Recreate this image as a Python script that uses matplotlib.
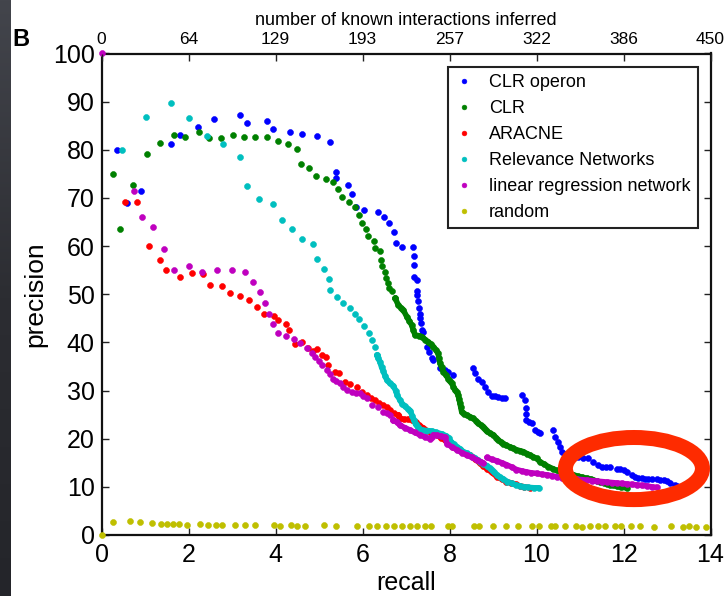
import matplotlib
matplotlib.use("Agg")
import matplotlib.pyplot as plt
import numpy as np
from matplotlib.patches import Ellipse

plt.rcParams['font.family'] = ['Liberation Sans', 'DejaVu Sans']

# ---------------- data ----------------
top_labels = ["0", "64", "129", "193", "257", "322", "386", "450"]
x_ticks = [0, 2, 4, 6, 8, 10, 12, 14]
y_ticks = [0, 10, 20, 30, 40, 50, 60, 70, 80, 90, 100]
labels = ["CLR operon", "CLR", "ARACNE", "Relevance Networks",
          "linear regression network", "random"]
colors = ["#0000ff", "#008000", "#ff0000", "#00bfbf", "#bf00bf", "#bfbf00"]

# CLR operon (blue)
clr_op_x = [0.35, 0.59, 0.91, 1.59, 1.80, 2.21, 2.59, 3.18, 3.34, 3.80, 3.95, 4.33, 4.61, 4.95,
            5.26, 5.38, 5.38, 5.66, 5.77, 5.84, 6.03, 6.35, 6.50, 6.61, 6.72, 6.76, 6.91, 7.15,
            7.18, 7.19, 7.19, 7.25, 7.25, 7.26, 7.28, 7.30, 7.32, 7.32, 7.34, 7.36, 7.40, 7.48,
            7.52, 7.59, 7.63, 7.78, 7.90, 7.97, 8.09,
            8.55, 8.59, 8.66, 8.74, 8.82, 8.89, 8.97, 9.05, 9.12, 9.20, 9.28,
            9.66, 9.74, 9.76, 9.76, 9.77, 9.83, 9.89, 9.97, 10.03, 10.08,
            10.39, 10.43, 10.50, 10.54, 10.58, 10.66, 10.80, 10.95, 11.08, 11.19, 11.31, 11.42,
            11.50, 11.60, 11.69, 11.84, 11.93, 12.00, 12.08, 12.19, 12.26, 12.34, 12.42, 12.50,
            12.57, 12.66, 12.76, 12.84, 12.92, 13.00, 13.07, 13.18, 13.24, 13.30]
clr_op_y = [80.0, 68.9, 71.4, 81.2, 83.1, 84.7, 86.5, 87.3, 85.6, 86.0, 84.3, 83.8, 83.2, 82.9,
            81.7, 75.3, 74.2, 72.6, 70.9, 68.2, 67.4, 67.0, 66.0, 64.8, 62.9, 60.6, 59.9, 59.8,
            58.0, 56.1, 53.6, 53.0, 50.7, 49.8, 48.5, 47.1, 46.0, 45.0, 44.0, 42.6, 42.2, 39.1,
            38.1, 36.7, 36.3, 34.6, 34.3, 33.9, 33.2,
            34.6, 33.6, 32.5, 31.8, 30.8, 29.8, 28.9, 28.8, 28.7, 28.5, 28.4,
            29.1, 28.0, 26.3, 25.1, 23.9, 23.5, 23.2, 21.8, 21.4, 21.2,
            21.8, 20.4, 19.4, 18.3, 17.3, 16.8, 16.4, 16.2, 16.0, 15.9, 15.2, 14.5,
            14.2, 14.2, 14.2, 13.8, 13.7, 13.5, 13.1, 12.5, 12.1, 11.9, 11.8, 11.7,
            11.6, 11.6, 11.6, 11.5, 11.4, 11.2, 10.9, 10.4, 10.2, 9.9]

# CLR (green)
clr_x = [0.26, 0.43, 0.72, 1.04, 1.34, 1.67, 1.92, 2.23, 2.46, 2.75, 3.03, 3.28, 3.54, 3.80,
         4.06, 4.29, 4.49, 4.58, 4.77, 4.92, 5.15, 5.33, 5.44, 5.54, 5.70, 5.83, 5.91, 5.99,
         6.08, 6.13, 6.26, 6.29, 6.41, 6.42, 6.45, 6.51, 6.55, 6.59, 6.62, 6.67, 6.75]
clr_y = [75.0, 63.6, 72.7, 79.1, 81.5, 83.1, 82.6, 83.8, 82.5, 82.4, 83.0, 82.7, 82.7, 82.6,
         81.9, 81.3, 80.1, 77.1, 76.3, 74.6, 74.0, 73.4, 71.9, 70.2, 69.2, 68.2, 66.5, 64.7,
         63.6, 62.0, 61.1, 59.7, 58.9, 57.2, 55.8, 54.6, 53.4, 52.4, 51.4, 50.6, 49.2]
clr_tail_x = [6.75, 6.82, 6.88, 6.94, 7.02, 7.08, 7.13, 7.17, 7.21, 7.29, 7.36, 7.44, 7.51, 7.57,
              7.63, 7.69, 7.74, 7.76, 7.78, 7.82, 7.86, 7.92, 7.97, 8.01, 8.05, 8.09, 8.13, 8.17,
              8.20, 8.22, 8.24, 8.26, 8.28, 8.34, 8.40, 8.48, 8.55, 8.61, 8.66, 8.72, 8.78, 8.82,
              8.86, 8.94, 9.01, 9.07, 9.12, 9.18, 9.24, 9.31, 9.39, 9.47, 9.54, 9.62, 9.70, 9.78,
              9.85, 9.93, 10.00, 10.08, 10.18, 10.27, 10.37, 10.46, 10.56, 10.66, 10.76, 10.85,
              10.95, 11.05, 11.15, 11.25, 11.31, 11.38, 11.46, 11.55, 11.62, 11.69, 11.77, 11.85,
              11.95, 12.07]
clr_tail_y = [49.2, 47.8, 47.2, 46.7, 45.3, 44.4, 43.6, 42.5, 41.5, 41.4, 41.2, 40.6, 40.1, 39.6,
              39.1, 38.4, 37.7, 36.7, 35.7, 34.8, 33.9, 33.2, 32.5, 32.0, 31.5, 30.8, 30.1, 29.6,
              29.1, 28.2, 27.4, 26.5, 25.6, 25.2, 24.9, 24.5, 24.2, 23.7, 23.2, 22.8, 22.5, 22.0,
              21.5, 21.1, 20.8, 20.2, 19.7, 19.3, 19.0, 18.6, 18.3, 18.0, 17.7, 17.5, 17.3, 16.9,
              16.6, 16.2, 15.9, 15.2, 14.7, 14.2, 13.8, 13.4, 13.1, 12.9, 12.7, 12.5,
              12.2, 12.0, 11.8, 11.6, 11.4, 11.2, 11.0, 10.8, 10.6, 10.4, 10.3, 10.1,
              9.9, 9.8]

# ARACNE (red)
ara_x = [0.54, 0.82, 1.10, 1.34, 1.48, 1.81, 2.07, 2.34, 2.49, 2.78, 2.96, 3.18, 3.40, 3.57,
         3.74, 3.97, 4.05, 4.24, 4.30, 4.45, 4.60, 4.74, 4.87, 4.95, 5.06, 5.16, 5.21, 5.37,
         5.47, 5.60, 5.71, 5.87, 5.98, 6.10, 6.20, 6.29, 6.38, 6.48, 6.56, 6.63, 6.72, 6.82]
ara_y = [69.2, 69.2, 60.0, 57.1, 55.0, 53.5, 54.4, 54.2, 51.9, 51.7, 50.2, 49.6, 48.8, 47.3,
         45.8, 45.5, 44.7, 43.8, 42.5, 39.6, 40.0, 38.8, 38.2, 38.6, 37.4, 37.0, 35.3, 33.9,
         33.7, 31.8, 31.3, 30.7, 29.8, 29.1, 28.5, 28.0, 27.5, 27.0, 26.5, 26.0, 25.3, 24.9]
ara_tail_x = [6.82, 6.86, 6.95, 7.05, 7.13, 7.22, 7.30, 7.40, 7.50, 7.60, 7.71, 7.80, 7.90, 8.00,
              8.09, 8.18, 8.28, 8.37, 8.47, 8.58, 8.70, 8.78, 8.86, 8.97, 9.09, 9.20, 9.31, 9.42,
              9.52, 9.62, 9.72, 9.85]
ara_tail_y = [24.9, 24.2, 24.0, 24.0, 23.9, 23.4, 22.8, 22.2, 21.6, 21.2, 20.8, 20.2, 19.7, 19.0,
              18.3, 17.8, 17.3, 16.9, 16.6, 15.8, 14.9, 14.3, 13.8, 13.0, 12.1, 11.6, 11.1, 10.8,
              10.5, 10.2, 10.0, 9.8]

# Relevance Networks (cyan)
rel_x = [0.48, 1.02, 1.59, 2.00, 2.42, 2.80, 3.18, 3.34, 3.62, 3.95, 4.14, 4.39, 4.61, 4.86,
         4.95, 5.11, 5.24, 5.26, 5.42, 5.55, 5.71, 5.82, 5.91, 6.03, 6.15, 6.21, 6.29, 6.33]
rel_y = [80.0, 86.9, 89.7, 86.7, 82.9, 81.2, 78.6, 72.5, 69.7, 68.7, 65.4, 63.6, 61.5, 60.4,
         57.3, 55.3, 53.2, 50.9, 49.5, 48.2, 47.1, 46.0, 44.8, 43.4, 41.9, 40.5, 39.1, 37.4]
rel_tail_x = [6.33, 6.36, 6.40, 6.44, 6.48, 6.52, 6.56, 6.63, 6.71, 6.76, 6.80, 6.86, 6.91, 6.97,
              7.04, 7.10, 7.14, 7.18, 7.22, 7.27, 7.36, 7.47, 7.59, 7.70, 7.82, 7.92, 7.98, 8.03,
              8.10, 8.17, 8.24, 8.32, 8.40, 8.47, 8.53, 8.59, 8.65, 8.70, 8.78, 8.86, 8.92, 8.97,
              9.03, 9.09, 9.16, 9.24, 9.33, 9.43, 9.52, 9.62, 9.72, 9.81, 9.95, 10.05]
rel_tail_y = [37.4, 36.7, 36.0, 34.8, 34.0, 33.0, 32.2, 31.5, 31.0, 30.0, 29.0, 28.0, 27.3, 26.8,
              26.2, 25.8, 24.8, 23.8, 23.0, 22.4, 21.8, 21.7, 21.6, 21.3, 21.0, 20.6, 20.2, 19.4,
              18.8, 18.3, 17.9, 17.3, 17.0, 16.6, 16.2, 15.9, 15.5, 15.2, 14.8, 14.4, 13.9, 13.5,
              13.0, 12.5, 12.0, 11.6, 11.1, 10.7, 10.4, 10.2, 10.0, 9.9, 9.8, 9.8]

# linear regression network (magenta)
lin_x = [0.00, 0.75, 0.94, 1.19, 1.44, 1.67, 2.02, 2.31, 2.66, 2.99, 3.30, 3.49, 3.65, 3.77,
         3.86, 3.95, 4.05, 4.23, 4.43, 4.56, 4.72, 4.83, 4.91, 5.00, 5.06, 5.18, 5.26, 5.33,
         5.40, 5.48, 5.56, 5.64, 5.75, 5.85, 5.94, 6.02, 6.10, 6.21, 6.36, 6.48, 6.56, 6.63, 6.71]
lin_y = [100.0, 71.4, 66.0, 64.0, 59.4, 55.0, 55.9, 54.7, 55.1, 55.1, 54.7, 52.5, 50.4, 48.1,
         45.8, 43.8, 41.9, 41.3, 40.8, 39.8, 38.8, 37.8, 37.0, 36.1, 35.3, 34.3, 33.4, 32.5,
         32.0, 31.5, 30.8, 30.1, 29.6, 29.5, 29.4, 28.9, 28.4, 27.0, 26.6, 25.6, 25.3, 24.9, 23.9]
lin_tail1_x = [6.71, 6.79, 6.86, 6.97, 7.09, 7.20, 7.32, 7.43, 7.55, 7.60, 7.63, 7.72, 7.81, 7.90,
               7.94, 8.05, 8.17, 8.28, 8.40, 8.52, 8.63, 8.72, 8.78]
lin_tail1_y = [23.9, 23.5, 22.8, 22.3, 21.8, 21.3, 20.8, 20.4, 20.0, 20.4, 20.8, 20.7, 20.5, 20.3,
               19.0, 18.3, 17.7, 17.1, 16.6, 16.1, 15.6, 15.2, 14.9]
lin_tail2_x = [8.86, 8.97, 9.09, 9.20, 9.31, 9.43, 9.54, 9.66, 9.77, 9.88, 10.00, 10.12, 10.23,
               10.35, 10.46, 10.58, 10.69, 10.80, 10.92, 11.04, 11.15, 11.27, 11.38, 11.50, 11.61,
               11.73, 11.84, 11.96, 12.07, 12.19, 12.30, 12.42, 12.53, 12.65, 12.76]
lin_tail2_y = [16.1, 15.7, 15.4, 15.0, 14.6, 14.1, 13.6, 13.3, 13.1, 12.9, 12.8, 12.6, 12.5,
               12.3, 12.1, 11.9, 11.8, 11.7, 11.6, 11.5, 11.4, 11.3, 11.2, 11.1, 11.0,
               10.9, 10.8, 10.7, 10.6, 10.5, 10.4, 10.3, 10.2, 10.0, 9.9]

# random (yellow)
rnd_x = [0.00, 0.27, 0.65, 0.88, 1.17, 1.36, 1.50, 1.64, 1.79, 1.96, 2.26, 2.45, 2.64, 2.78, 3.07,
         3.29, 3.54, 3.97, 4.11, 4.35, 4.49, 4.68, 5.11, 5.39, 5.87, 6.15, 6.34, 6.53, 6.72,
         6.91, 7.10, 7.25, 7.44, 7.58, 7.96, 8.05, 8.57, 8.67, 9.00, 9.29, 9.57, 9.90, 10.05,
         10.33, 10.43, 10.66, 10.90, 11.04, 11.23, 11.42, 11.57, 11.80, 11.95, 12.18, 12.37,
         12.71, 13.09, 13.37, 13.51, 13.66, 13.89]
rnd_y = [0.0, 2.7, 3.0, 2.6, 2.4, 2.3, 2.2, 2.3, 2.2, 2.1, 2.2, 2.1, 2.1, 2.0, 2.1, 2.0, 2.0,
         2.1, 1.9, 2.0, 1.9, 1.9, 2.0, 1.9, 1.9, 1.9, 1.9, 1.9, 1.9, 1.9, 1.9, 1.8, 1.9, 1.8,
         1.9, 1.8, 1.8, 1.9, 1.8, 1.8, 1.8, 1.8, 1.8, 1.8, 1.8, 1.8, 1.8, 1.7, 1.8, 1.8, 1.8,
         1.8, 1.8, 1.8, 1.8, 1.7, 1.8, 1.7, 1.8, 1.7, 1.7]

# highlight ellipse (data coordinates)
ell_center = (12.24, 13.8)
ell_w, ell_h = 3.15, 12.9

# ---------------- figure ----------------
fig = plt.figure(figsize=(7.25, 5.96), dpi=100)
fig.patch.set_facecolor('white')

# dark band at the left edge
band = fig.add_axes([0, 0, 11 / 725, 1])
grad = np.linspace(0, 1, 256).reshape(-1, 1)
band.imshow(grad, aspect='auto', cmap=matplotlib.colors.LinearSegmentedColormap.from_list(
    'band', ['#43454c', '#2c2d32', '#24252a']), extent=[0, 1, 0, 1])
band.set_axis_off()

ax = fig.add_axes([101.5 / 725, 1 - 535 / 596, 609 / 725, 481.5 / 596])

ms = 4.3
series = [
    (clr_op_x, clr_op_y, None, None),
    (clr_x, clr_y, [clr_tail_x], [clr_tail_y]),
    (ara_x, ara_y, [ara_tail_x], [ara_tail_y]),
    (rel_x, rel_y, [rel_tail_x], [rel_tail_y]),
    (lin_x, lin_y, [lin_tail1_x, lin_tail2_x], [lin_tail1_y, lin_tail2_y]),
    (rnd_x, rnd_y, None, None),
]
for (sx, sy, tx, ty), lab, c in zip(series, labels, colors):
    ax.plot(sx, sy, linestyle='none', marker='o', ms=ms, color=c, mec=c, mew=0.4,
            label=lab, clip_on=False, zorder=3)
    if tx is not None:
        for a, b in zip(tx, ty):
            ax.plot(a, b, linestyle='-', lw=4.0, color=c, marker='o', ms=ms, mew=0.4,
                    solid_joinstyle='round', solid_capstyle='round', zorder=3)

ax.set_xlim(0, 14)
ax.set_ylim(0, 100)
ax.set_xticks(x_ticks)
ax.set_yticks(y_ticks)
ax.tick_params(direction='in', length=5, width=1, right=True, top=False,
               labelsize=18, color='#222222')
ax.tick_params(axis='y', pad=5)
ax.tick_params(axis='x', pad=6)
for sp in ax.spines.values():
    sp.set_linewidth(1.6)
    sp.set_color('#111111')
ax.set_xlabel('recall', fontsize=18, labelpad=3)
ax.set_ylabel('precision', fontsize=19, labelpad=4)

ax2 = ax.twiny()
ax2.set_xlim(0, 14)
ax2.set_xticks(x_ticks)
ax2.set_xticklabels(top_labels)
ax2.tick_params(direction='in', length=5, width=1, labelsize=12.5, pad=5, color='#222222')
ax2.set_xlabel('number of known interactions inferred', fontsize=13, labelpad=5)
for sp in ax2.spines.values():
    sp.set_visible(False)

leg = ax.legend(loc='upper right', bbox_to_anchor=(0.9795, 0.9726), borderaxespad=0,
                fontsize=13, numpoints=1, handlelength=1.0, handletextpad=0.9,
                borderpad=0.4, labelspacing=0.5, fancybox=False, framealpha=1,
                edgecolor='#222222', markerscale=0.8)
leg.get_frame().set_linewidth(1.5)
leg.set_zorder(5)

ell = Ellipse(ell_center, ell_w, ell_h, fill=False, ec='#fe2b00', lw=10.8,
              clip_on=False, zorder=10)
ax.add_patch(ell)

fig.text(12 / 725, 1 - 46 / 596, 'B', fontsize=17, fontweight='bold', ha='left',
         va='baseline')

fig.savefig('out.png', dpi=100)
